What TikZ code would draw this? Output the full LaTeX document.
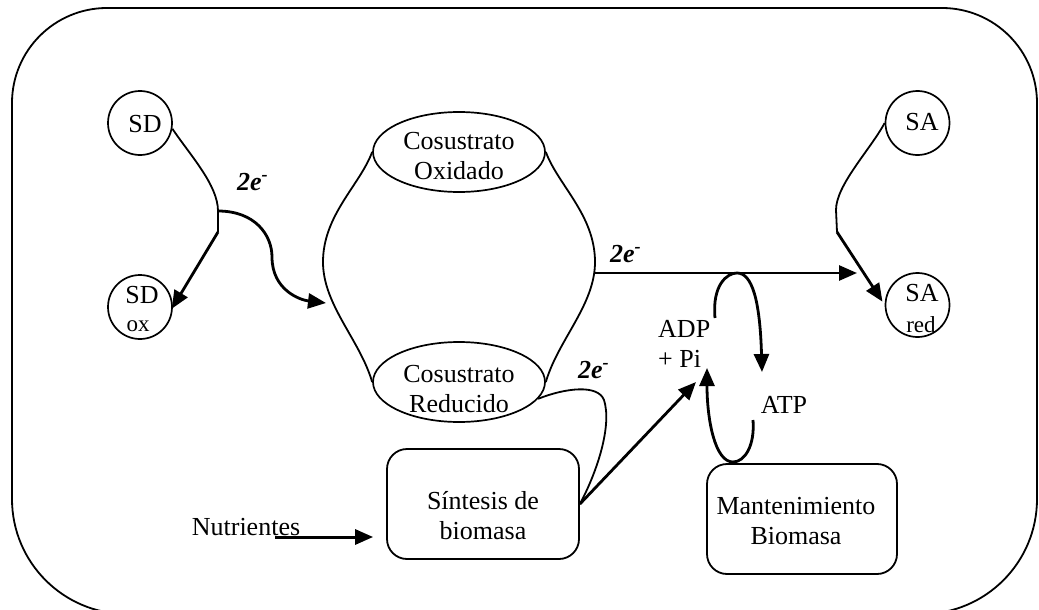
\documentclass[tikz,border=0pt]{standalone}
\usepackage{fontspec}
\setmainfont{Liberation Serif}
\usetikzlibrary{arrows.meta,shapes.geometric}
\begin{document}
\begin{tikzpicture}[x=1pt,y=-1pt,
  wire/.style={line width=1.8pt},
  flow/.style={line width=2.8pt,-{Triangle[length=18pt,width=15pt]}},
  ring/.style={draw,circle,line width=1.7pt,minimum size=64pt,inner sep=0pt},
  oval/.style={draw,ellipse,line width=1.7pt,minimum width=172pt,minimum height=80pt,inner sep=0pt},
  card/.style={draw,rounded corners=20pt,line width=1.8pt,inner sep=0pt},
  lbl/.style={inner sep=0pt,font=\fontsize{26}{30}\selectfont,align=center},
  sub/.style={inner sep=0pt,font=\fontsize{23}{26}\selectfont},
  elec/.style={inner sep=0pt,font=\fontsize{26}{30}\selectfont\bfseries\itshape}]

\useasboundingbox (0,0) rectangle (1039,610);

% outer frame (tighter top corners, wider bottom corners)
\draw[wire,rounded corners=95pt] (12,300) |- (520,8) -| (1037,300);
\draw[wire,rounded corners=115pt] (12,300) |- (520,614) -| (1037,300);

% substrates
\node[ring] (sd) at (140,123) {};
\node[lbl] (sdtxt) at (145,124) {SD};
\node[ring] (sdox) at (140,307) {};
\node[lbl] (sdoxa) at (142,295) {SD};
\node[sub] (sdoxb) at (138,326) {ox};

\node[ring] (sa) at (917.5,123) {};
\node[lbl] (satxt) at (922,122) {SA};
\node[ring] (sared) at (917.5,305) {};
\node[lbl] (sareda) at (922,293) {SA};
\node[sub] (saredb) at (921,325) {red};

% co-substrate pair
\node[oval] (cox) at (459,152) {};
\node[lbl] (coxtxt) at (459,156) {Cosustrato\\Oxidado};
\node[oval] (cred) at (459,382) {};
\node[lbl] (credtxt) at (459,389) {Cosustrato\\Reducido};

% biomass boxes
\node[card,minimum width=192pt,minimum height=110pt] (sin) at (483,504) {};
\node[lbl] (sintxt) at (483,516) {Síntesis de\\biomasa};
\node[card,minimum width=190pt,minimum height=110pt] (mant) at (802,519) {};
\node[lbl] (manttxt) at (796,521) {Mantenimiento\\Biomasa};

% free labels
\node[lbl,align=left,anchor=west] (adp) at (658,344) {ADP\\+ Pi};
\node[lbl] (atp) at (784,405) {ATP};
\node[lbl,anchor=base] (nut) at (246,535) {Nutrientes};
\node[elec,anchor=base west] (e1) at (237,190) {2e\textsuperscript{-}};
\node[elec,anchor=base west] (e2) at (610,262) {2e\textsuperscript{-}};
\node[elec,anchor=base west] (e3) at (578,378) {2e\textsuperscript{-}};

% path points
\coordinate (br) at (218,211);
\coordinate (brlow) at (218,232);
\coordinate (lensin) at (326,303);
\coordinate (lensout) at (595,273);
\coordinate (hend) at (857,273);
\coordinate (sakink) at (836,210);
\coordinate (salow) at (837,232);
\coordinate (adptip) at (696,382);
\coordinate (nut0) at (275,537);

% co-substrate cycle
\draw[wire] (cox.west) .. controls (360,185) and (323,215) .. (323,262)
  .. controls (323,305) and (360,340) .. (cred.west);
\draw[wire] (cox.east) .. controls (558,185) and (595,215) .. (595,262)
  .. controls (595,305) and (558,340) .. (cred.east);

% electron donor
\draw[wire] (sd.-10) .. controls (190,155) and (218,185) .. (br) -- (brlow);
\draw[flow,shorten >=-2pt] (brlow) -- (sdox.east);
\draw[flow] (br) .. controls (255,211) and (272,235) .. (272,257)
  .. controls (272,290) and (300,300) .. (lensin);

% electron acceptor
\draw[wire] (sa.west) .. controls (870,150) and (836,185) .. (sakink) -- (salow);
\draw[flow,shorten >=4pt] (salow) -- (sared.west);
\draw[flow] (lensout) -- (hend);

% reduced co-substrate to biomass synthesis
\draw[wire] (cred.-12) .. controls (565,388) and (598,384) .. (604,400)
  .. controls (612,425) and (598,470) .. (sin.east);
\draw[flow] (sin.east) -- (adptip);

% ATP cycle
\draw[flow] (715,318) .. controls (712,285) and (727,273) .. (737,273)
  .. controls (752,273) and (760,300) .. (762,372);
\draw[flow] (753,420) .. controls (755,445) and (745,462) .. (733,462)
  .. controls (715,462) and (707,420) .. (707,368);

% nutrients
\draw[line width=3pt,-{Triangle[length=18pt,width=15pt]},shorten >=13pt] (nut0) -- (nut0 -| sin.west);
\end{tikzpicture}
\end{document}
